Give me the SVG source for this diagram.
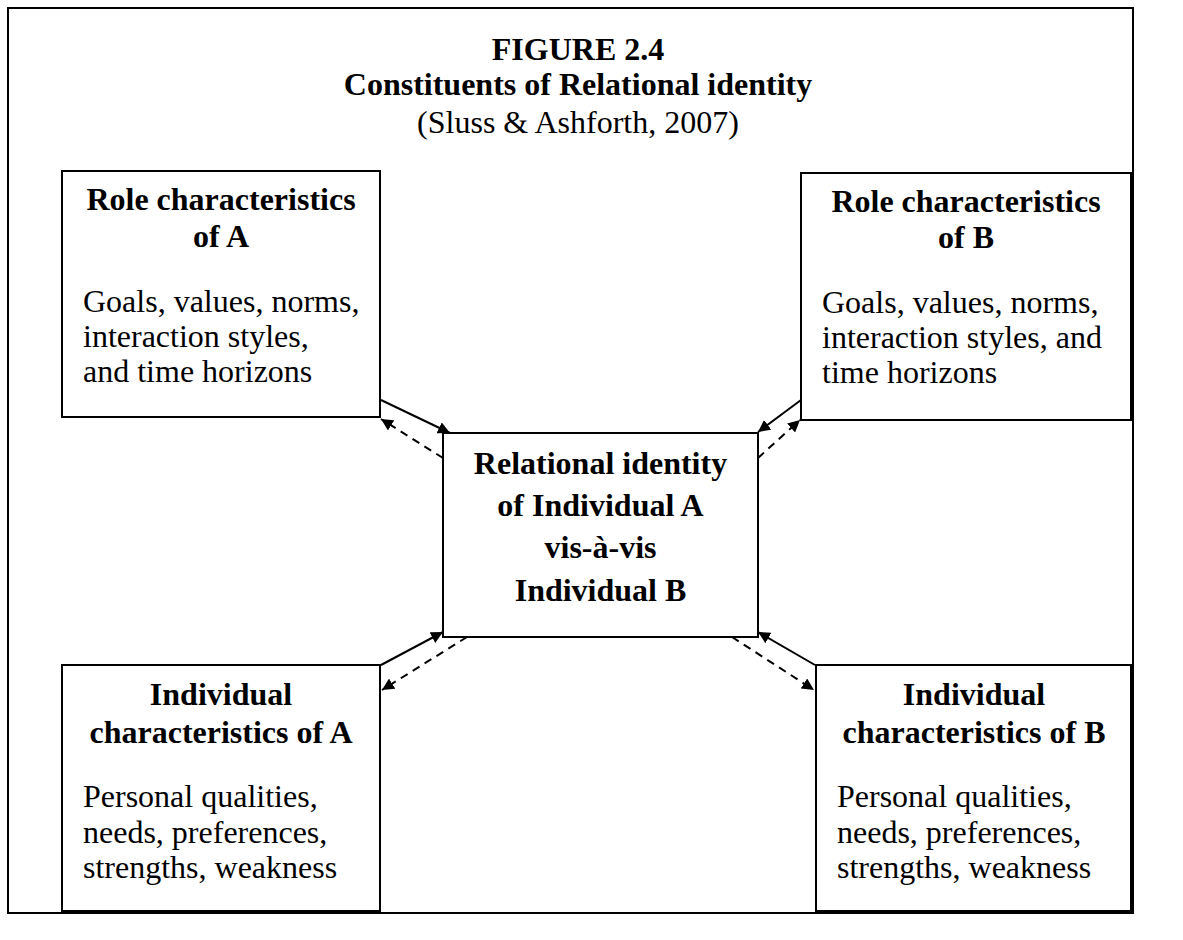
<svg xmlns="http://www.w3.org/2000/svg" width="1183" height="940" viewBox="0 0 1183 940">
<style>
text{font-family:"Liberation Serif","Times New Roman",serif;font-size:32px;fill:#000}
.b{font-weight:bold}
.c{text-anchor:middle}
.box{fill:#fff;stroke:#000;stroke-width:2}
.ln{stroke:#000;stroke-width:2;fill:none}
.d{stroke-dasharray:8 6}
</style>
<defs>
<marker id="ah" viewBox="0 0 12 12" refX="12" refY="6" markerWidth="12" markerHeight="12" markerUnits="userSpaceOnUse" orient="auto">
<path d="M0,0 L12,6 L0,12 z" fill="#000"/>
</marker>
</defs>
<rect x="0" y="0" width="1183" height="940" fill="#fff"/>
<rect id="frame" x="8" y="8" width="1125" height="905" fill="none" stroke="#000" stroke-width="2"/>
<g id="title">
<text class="b c" x="578" y="60">FIGURE 2.4</text>
<text class="b c" x="578" y="95">Constituents of Relational identity</text>
<text class="c" x="578" y="133">(Sluss &amp; Ashforth, 2007)</text>
</g>
<g id="connectors">
<line class="ln" x1="381" y1="400" x2="450" y2="433" marker-end="url(#ah)"/>
<line class="ln d" x1="443" y1="458" x2="381" y2="419" marker-end="url(#ah)"/>
<line class="ln" x1="801" y1="400" x2="758" y2="432" marker-end="url(#ah)"/>
<line class="ln d" x1="758" y1="458" x2="800" y2="420" marker-end="url(#ah)"/>
<line class="ln" x1="381" y1="665" x2="443" y2="632" marker-end="url(#ah)"/>
<line class="ln d" x1="467" y1="637" x2="382" y2="690" marker-end="url(#ah)"/>
<line class="ln" x1="815" y1="665" x2="758" y2="632" marker-end="url(#ah)"/>
<line class="ln d" x1="732" y1="637" x2="814" y2="690" marker-end="url(#ah)"/>
</g>
<g id="roleA">
<rect class="box" x="62" y="171" width="318" height="246"/>
<text class="b c" x="221" y="210">Role characteristics</text>
<text class="b c" x="221" y="247">of A</text>
<text x="83" y="312">Goals, values, norms,</text>
<text x="83" y="347">interaction styles,</text>
<text x="83" y="382">and time horizons</text>
</g>
<g id="roleB">
<rect class="box" x="801" y="173" width="330" height="247"/>
<text class="b c" x="966" y="212">Role characteristics</text>
<text class="b c" x="966" y="248">of B</text>
<text x="822" y="313">Goals, values, norms,</text>
<text x="822" y="348">interaction styles, and</text>
<text x="822" y="383">time horizons</text>
</g>
<g id="relational">
<rect class="box" x="443" y="433" width="315" height="204"/>
<text class="b c" x="600.5" y="474">Relational identity</text>
<text class="b c" x="600.5" y="516">of Individual A</text>
<text class="b c" x="600.5" y="558">vis-à-vis</text>
<text class="b c" x="600.5" y="601">Individual B</text>
</g>
<g id="indivA">
<rect class="box" x="62" y="665" width="318" height="246"/>
<text class="b c" x="221" y="705">Individual</text>
<text class="b c" x="221" y="743">characteristics of A</text>
<text x="83" y="807">Personal qualities,</text>
<text x="83" y="843">needs, preferences,</text>
<text x="83" y="878">strengths, weakness</text>
</g>
<g id="indivB">
<rect class="box" x="816" y="665" width="315" height="246"/>
<text class="b c" x="974" y="705">Individual</text>
<text class="b c" x="974" y="743">characteristics of B</text>
<text x="837" y="807">Personal qualities,</text>
<text x="837" y="843">needs, preferences,</text>
<text x="837" y="878">strengths, weakness</text>
</g>
</svg>
